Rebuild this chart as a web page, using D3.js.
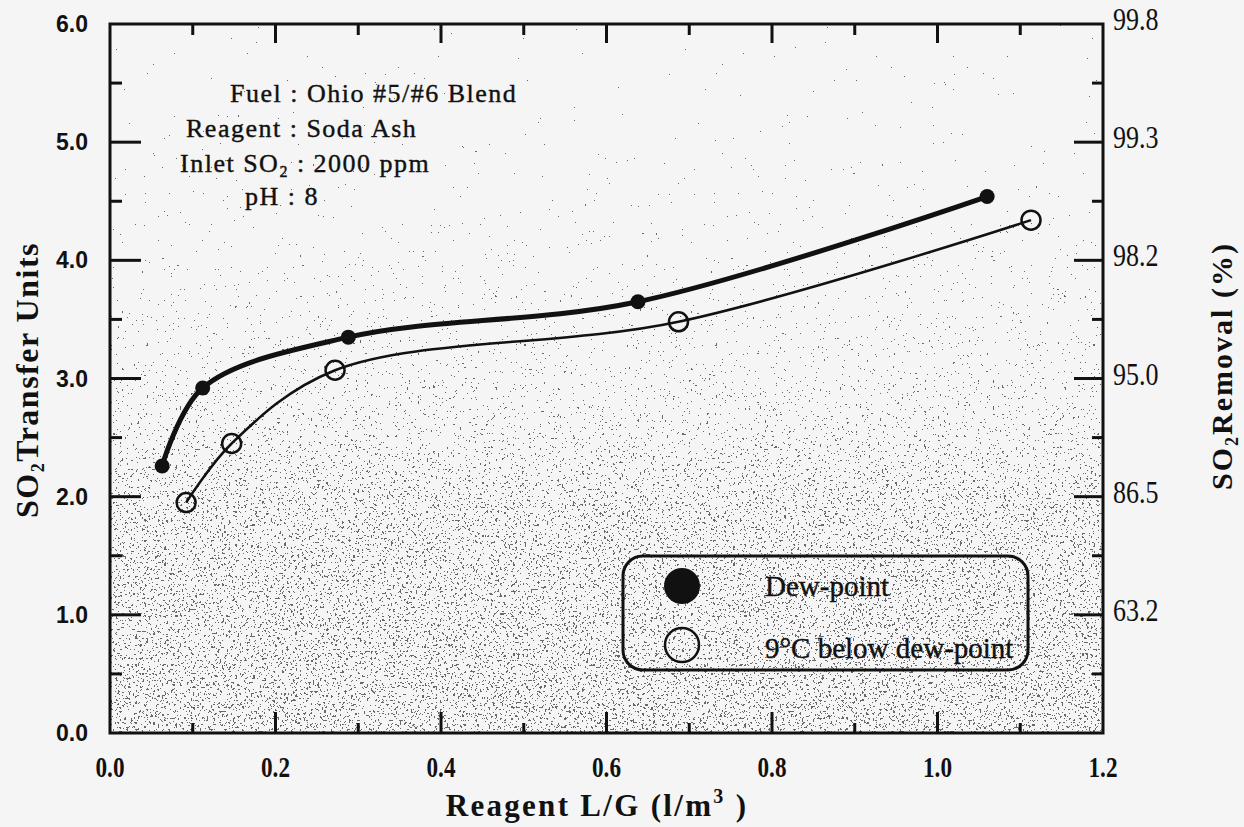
<!DOCTYPE html>
<html>
<head>
<meta charset="utf-8">
<script src="https://cdn.jsdelivr.net/npm/d3@7"></script>
<style>
  html, body { margin: 0; padding: 0; background: #f5f5f5; }
  svg { display: block; }
</style>
</head>
<body>
<svg id="chart" width="1244" height="827"></svg>
<script>
// ---------------- DATA ----------------
const dewX = [0.063, 0.112, 0.288, 0.638, 1.06];
const dewY = [2.26, 2.92, 3.35, 3.65, 4.54];
const belowX = [0.092, 0.147, 0.272, 0.687, 1.113];
const belowY = [1.95, 2.45, 3.07, 3.48, 4.34];

const xTickValues = [0, 0.2, 0.4, 0.6, 0.8, 1.0, 1.2];
const xTickLabels = ["0.0", "0.2", "0.4", "0.6", "0.8", "1.0", "1.2"];
const yTickValues = [0, 1, 2, 3, 4, 5, 6];
const yTickLabels = ["0.0", "1.0", "2.0", "3.0", "4.0", "5.0", "6.0"];
const rightTickLabels = ["", "63.2", "86.5", "95.0", "98.2", "99.3", "99.8"];

const notes = [
  {text: "Fuel : Ohio #5/#6 Blend", x: 230},
  {text: "Reagent : Soda Ash", x: 186},
  {text: "Inlet SO", sub: "2", rest: " : 2000 ppm", x: 180},
  {text: "pH : 8", x: 245}
];
const legendLabels = ["Dew-point", "9°C below dew-point"];

// ---------------- LAYOUT ----------------
const m = {left: 110, right: 1103, top: 24, bottom: 733};
const svg = d3.select("#chart");

const x = d3.scaleLinear().domain([0, 1.2]).range([m.left, m.right]);
const y = d3.scaleLinear().domain([0, 6]).range([m.bottom, m.top]);

const defs = svg.append("defs");

// stipple texture (decorative scan look)
const grad = defs.append("linearGradient").attr("id", "dens")
  .attr("x1", 0).attr("y1", 0).attr("x2", 0).attr("y2", 1);
[[0, 0], [0.3, 0.25], [0.55, 0.6], [0.68, 0.9], [1, 1]].forEach(([o, a]) =>
  grad.append("stop").attr("offset", o).attr("stop-color", "#000").attr("stop-opacity", a));

const f = defs.append("filter").attr("id", "stip")
  .attr("x", 0).attr("y", 0).attr("width", 1).attr("height", 1);
f.append("feTurbulence").attr("type", "fractalNoise").attr("baseFrequency", 0.45)
  .attr("numOctaves", 2).attr("seed", 7).attr("result", "noise");
f.append("feColorMatrix").attr("in", "noise").attr("type", "matrix")
  .attr("values", "0 0 0 0 0  0 0 0 0 0  0 0 0 0 0  1 0 0 0 0").attr("result", "na");
f.append("feComposite").attr("in", "na").attr("in2", "SourceGraphic")
  .attr("operator", "arithmetic").attr("k1", 0).attr("k2", 1).attr("k3", 0.21).attr("k4", 0)
  .attr("result", "sum");
const ct = f.append("feComponentTransfer").attr("in", "sum");
["feFuncR", "feFuncG", "feFuncB"].forEach(n =>
  ct.append(n).attr("type", "linear").attr("slope", 0).attr("intercept", 0.08));
const tv = d3.range(100).map(i => i < 84 ? 0 : 0.85).join(" ");
ct.append("feFuncA").attr("type", "discrete").attr("tableValues", tv);

svg.append("rect")
  .attr("x", m.left).attr("y", m.top)
  .attr("width", m.right - m.left).attr("height", m.bottom - m.top)
  .attr("fill", "url(#dens)")
  .attr("filter", "url(#stip)");

// ---------------- AXES ----------------
const axisColor = "#111";
const g = svg.append("g");

g.append("rect").attr("x", m.left).attr("y", m.top)
  .attr("width", m.right - m.left).attr("height", m.bottom - m.top)
  .attr("fill", "none").attr("stroke", axisColor).attr("stroke-width", 3);

const xMinor = d3.range(1, 12).map(i => i / 10);
xMinor.forEach((v, i) => {
  const major = (i + 1) % 2 === 0;
  g.append("line").attr("x1", x(v)).attr("x2", x(v))
    .attr("y1", m.bottom).attr("y2", m.bottom - (major ? 21 : 10))
    .attr("stroke", axisColor).attr("stroke-width", 3);
  g.append("line").attr("x1", x(v)).attr("x2", x(v))
    .attr("y1", m.top).attr("y2", m.top + (major ? 19 : 11))
    .attr("stroke", axisColor).attr("stroke-width", 3);
});

const yMinor = d3.range(1, 12).map(i => i / 2);
yMinor.forEach((v, i) => {
  const major = (i + 1) % 2 === 0;
  g.append("line").attr("x1", m.left).attr("x2", m.left + (major ? 31 : 12))
    .attr("y1", y(v)).attr("y2", y(v))
    .attr("stroke", axisColor).attr("stroke-width", 3);
  g.append("line").attr("x1", m.right).attr("x2", m.right - (major ? 29 : 11))
    .attr("y1", y(v)).attr("y2", y(v))
    .attr("stroke", axisColor).attr("stroke-width", 3);
});

yTickValues.forEach((v, i) => {
  svg.append("text").attr("x", 88).attr("y", y(v) + 8)
    .attr("text-anchor", "end")
    .style("font-family", "'Liberation Sans', Arial, sans-serif")
    .style("font-weight", "bold").style("font-size", "23px")
    .attr("fill", "#111").text(yTickLabels[i]);
});

yTickValues.forEach((v, i) => {
  if (!rightTickLabels[i]) return;
  svg.append("text")
    .attr("transform", `translate(1113,${y(v) + 6}) scale(0.84,1)`)
    .style("font-family", "'Liberation Serif', 'Times New Roman', serif")
    .style("font-size", "31px")
    .attr("fill", "#111").text(rightTickLabels[i]);
});

xTickValues.forEach((v, i) => {
  svg.append("text")
    .attr("transform", `translate(${x(v)},777) scale(0.8,1)`)
    .attr("text-anchor", "middle")
    .style("font-family", "'Liberation Serif', 'Times New Roman', serif")
    .style("font-weight", "bold").style("font-size", "29px")
    .attr("fill", "#111").text(xTickLabels[i]);
});

// axis titles
const xt = svg.append("text")
  .attr("x", 597).attr("y", 816).attr("text-anchor", "middle")
  .style("font-family", "'Liberation Serif', 'Times New Roman', serif")
  .style("font-weight", "bold").style("font-size", "31px")
  .style("letter-spacing", "2.3px")
  .attr("fill", "#111");
xt.append("tspan").text("Reagent L/G (l/m");
xt.append("tspan").attr("dy", -13).style("font-size", "20px").text("3");
xt.append("tspan").attr("dy", 13).text(" )");

const yl = svg.append("text")
  .attr("transform", "translate(38,380) rotate(-90)")
  .attr("text-anchor", "middle")
  .style("font-family", "'Liberation Serif', 'Times New Roman', serif")
  .style("font-weight", "bold").style("font-size", "32px")
  .style("letter-spacing", "1.5px")
  .attr("fill", "#111");
yl.append("tspan").text("SO");
yl.append("tspan").attr("dy", 6).style("font-size", "18px").text("2");
yl.append("tspan").attr("dy", -6).text("Transfer Units");

const yr = svg.append("text")
  .attr("transform", "translate(1232,366) rotate(-90)")
  .attr("text-anchor", "middle")
  .style("font-family", "'Liberation Serif', 'Times New Roman', serif")
  .style("font-weight", "bold").style("font-size", "30px")
  .style("letter-spacing", "2px")
  .attr("fill", "#111");
yr.append("tspan").text("SO");
yr.append("tspan").attr("dy", 6).style("font-size", "18px").text("2");
yr.append("tspan").attr("dy", -6).text("Removal (%)");

// ---------------- ANNOTATION ----------------
const noteY = [102, 137, 172, 205];
notes.forEach((n, i) => {
  const t = svg.append("text").attr("x", n.x).attr("y", noteY[i])
    .style("font-family", "'Liberation Serif', 'Times New Roman', serif")
    .style("font-size", "26px").style("letter-spacing", "1.5px")
    .attr("fill", "#111").attr("stroke", "#111").attr("stroke-width", 0.4);
  t.append("tspan").text(n.text);
  if (n.sub) {
    t.append("tspan").attr("dy", 5).style("font-size", "16px").text(n.sub);
    t.append("tspan").attr("dy", -5).text(n.rest);
  }
});

// ---------------- SERIES ----------------
const line = d3.line().x(d => x(d[0])).y(d => y(d[1])).curve(d3.curveCatmullRom.alpha(0.5));
const dewPts = dewX.map((v, i) => [v, dewY[i]]);
const belowPts = belowX.map((v, i) => [v, belowY[i]]);

svg.append("path").attr("d", line(belowPts))
  .attr("fill", "none").attr("stroke", "#111").attr("stroke-width", 2.5);
svg.append("path").attr("d", line(dewPts))
  .attr("fill", "none").attr("stroke", "#111").attr("stroke-width", 5);

svg.selectAll(".dew").data(dewPts).enter().append("circle")
  .attr("cx", d => x(d[0])).attr("cy", d => y(d[1])).attr("r", 7.5)
  .attr("fill", "#111");
svg.selectAll(".below").data(belowPts).enter().append("circle")
  .attr("cx", d => x(d[0])).attr("cy", d => y(d[1])).attr("r", 9.5)
  .attr("fill", "none").attr("stroke", "#111").attr("stroke-width", 2.5);

// ---------------- LEGEND ----------------
const lg = svg.append("g");
lg.append("rect").attr("x", 623).attr("y", 556).attr("width", 405).attr("height", 114)
  .attr("rx", 20).attr("ry", 20)
  .attr("fill", "none").attr("stroke", "#111").attr("stroke-width", 3);
lg.append("circle").attr("cx", 682).attr("cy", 586).attr("r", 18).attr("fill", "#111");
lg.append("circle").attr("cx", 682).attr("cy", 645).attr("r", 17)
  .attr("fill", "none").attr("stroke", "#111").attr("stroke-width", 2.5);
[596, 658].forEach((yy, i) => {
  lg.append("text").attr("x", 765).attr("y", yy)
    .style("font-family", "'Liberation Serif', 'Times New Roman', serif")
    .style("font-size", "29px")
    .attr("fill", "#111").attr("stroke", "#111").attr("stroke-width", 0.4)
    .text(legendLabels[i]);
});
</script>
</body>
</html>
